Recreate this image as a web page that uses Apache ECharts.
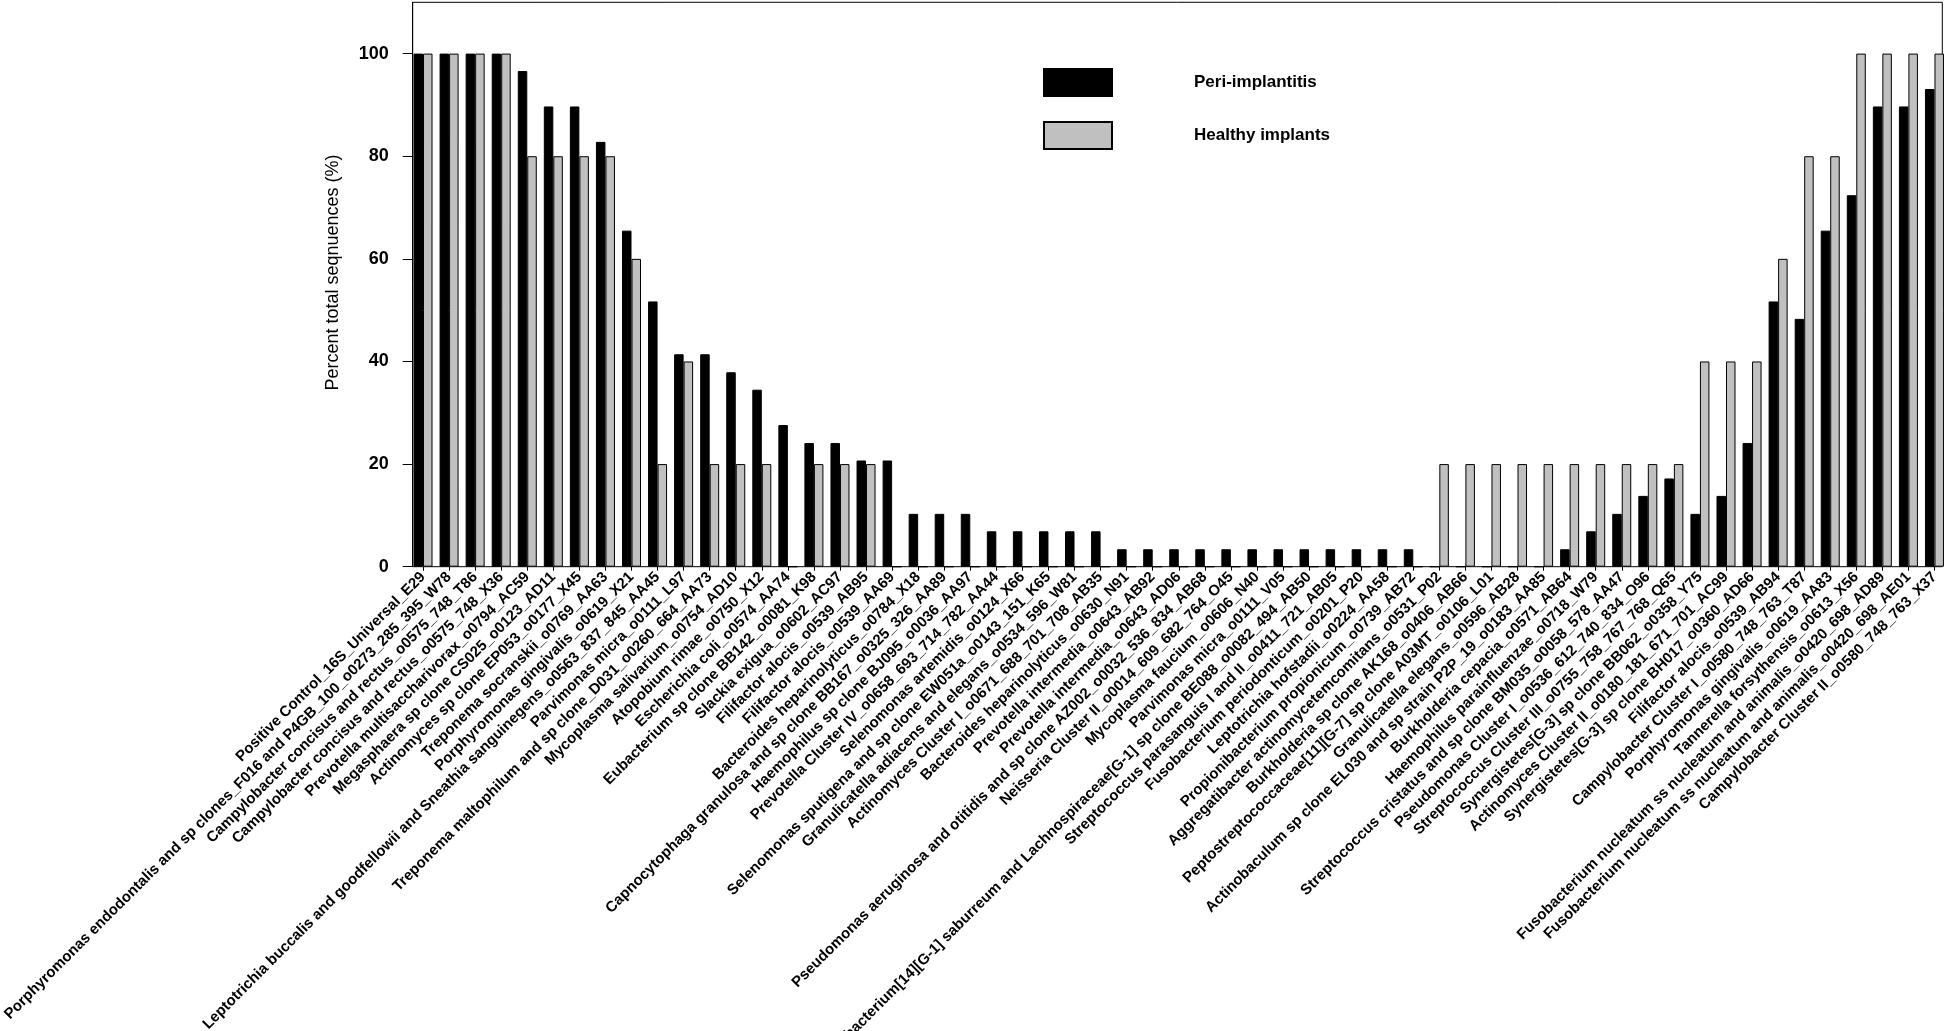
<!DOCTYPE html>
<html>
<head>
<meta charset="utf-8">
<script src="https://cdn.jsdelivr.net/npm/echarts@6/dist/echarts.min.js"></script>
<style>
html,body{margin:0;padding:0;background:#fff;}
#chart{width:1946px;height:1031px;}
</style>
</head>
<body>
<div id="chart"></div>
<script>
var categories = [
  "Positive Control_16S_Universal_E29",
  "Porphyromonas endodontalis and sp clones_F016 and P4GB_100_o0273_285_395_W78",
  "Campylobacter concisus and rectus_o0575_748_T86",
  "Campylobacter concisus and rectus_o0575_748_X36",
  "Prevotella multisaccharivorax_o0794_AC59",
  "Megasphaera sp clone CS025_o0123_AD11",
  "Actinomyces sp clone EP053_o0177_X45",
  "Treponema socranskii_o0769_AA63",
  "Porphyromonas gingivalis_o0619_X21",
  "Leptotrichia buccalis and goodfellowii and Sneathia sanguinegens_o0563_837_845_AA45",
  "Parvimonas micra_o0111_L97",
  "Treponema maltophilum and sp clone_D031_o0260_664_AA73",
  "Mycoplasma salivarium_o0754_AD10",
  "Atopobium rimae_o0750_X12",
  "Escherichia coli_o0574_AA74",
  "Eubacterium sp clone BB142_o0081_K98",
  "Slackia exigua_o0602_AC97",
  "Filifactor alocis_o0539_AB95",
  "Filifactor alocis_o0539_AA69",
  "Bacteroides heparinolyticus_o0784_X18",
  "Capnocytophaga granulosa and sp clone BB167_o0325_326_AA89",
  "Haemophilus sp clone BJ095_o0036_AA97",
  "Prevotella Cluster IV_o0658_693_714_782_AA44",
  "Selenomonas artemidis_o0124_X66",
  "Selenomonas sputigena and sp clone EW051a_o0143_151_K65",
  "Granulicatella adiacens and elegans_o0534_596_W81",
  "Actinomyces Cluster I_o0671_688_701_708_AB35",
  "Bacteroides heparinolyticus_o0630_N91",
  "Prevotella intermedia_o0643_AB92",
  "Prevotella intermedia_o0643_AD06",
  "Pseudomonas aeruginosa and otitidis and sp clone AZ002_o0032_536_834_AB68",
  "Neisseria Cluster II_o0014_609_682_764_O45",
  "Mycoplasma faucium_o0606_N40",
  "Parvimonas micra_o0111_V05",
  "Eubacterium[14][G-1] saburreum and Lachnospiraceae[G-1] sp clone BE088_o0082_494_AB50",
  "Streptococcus parasanguis I and II_o0411_721_AB05",
  "Fusobacterium periodonticum_o0201_P20",
  "Leptotrichia hofstadii_o0224_AA58",
  "Propionibacterium propionicum_o0739_AB72",
  "Aggregatibacter actinomycetemcomitans_o0531_P02",
  "Burkholderia sp clone AK168_o0406_AB66",
  "Peptostreptococcaceae[11][G-7] sp clone A03MT_o0106_L01",
  "Granulicatella elegans_o0596_AB28",
  "Actinobaculum sp clone EL030 and sp strain P2P_19_o0183_AA85",
  "Burkholderia cepacia_o0571_AB64",
  "Haemophilus parainfluenzae_o0718_W79",
  "Streptococcus cristatus and sp clone BM035_o0058_578_AA47",
  "Pseudomonas Cluster I_o0536_612_740_834_O96",
  "Streptococcus Cluster III_o0755_758_767_768_Q65",
  "Synergistetes[G-3] sp clone BB062_o0358_Y75",
  "Actinomyces Cluster II_o0180_181_671_701_AC99",
  "Synergistetes[G-3] sp clone BH017_o0360_AD66",
  "Filifactor alocis_o0539_AB94",
  "Campylobacter Cluster I_o0580_748_763_T87",
  "Porphyromonas gingivalis_o0619_AA83",
  "Tannerella forsythensis_o0613_X56",
  "Fusobacterium nucleatum ss nucleatum and animalis_o0420_698_AD89",
  "Fusobacterium nucleatum ss nucleatum and animalis_o0420_698_AE01",
  "Campylobacter Cluster II_o0580_748_763_X37"
];

var periImplantitis = [
  100, 100, 100, 100, 96.6, 89.7, 89.7, 82.8, 65.5, 51.7,
  41.4, 41.4, 37.9, 34.5, 27.6, 24.1, 24.1, 20.7, 20.7, 10.3,
  10.3, 10.3, 6.9, 6.9, 6.9, 6.9, 6.9, 3.4, 3.4, 3.4,
  3.4, 3.4, 3.4, 3.4, 3.4, 3.4, 3.4, 3.4, 3.4, 0,
  0, 0, 0, 0, 3.4, 6.9, 10.3, 13.8, 17.2, 10.3,
  13.8, 24.1, 51.7, 48.3, 65.5, 72.4, 89.7, 89.7, 93.1
];

var healthyImplants = [
  100, 100, 100, 100, 80, 80, 80, 80, 60, 20,
  40, 20, 20, 20, 0, 20, 20, 20, 0, 0,
  0, 0, 0, 0, 0, 0, 0, 0, 0, 0,
  0, 0, 0, 0, 0, 0, 0, 0, 0, 20,
  20, 20, 20, 20, 20, 20, 20, 20, 20, 40,
  40, 40, 60, 80, 80, 100, 100, 100, 100
];

var yTicks = [0, 20, 40, 60, 80, 100];
var seriesNames = ["Peri-implantitis", "Healthy implants"];
var yTitle = "Percent total seqnuences (%)";

var FONT = "'Liberation Sans', Arial, sans-serif";
var chart = echarts.init(document.getElementById('chart'), null, {renderer: 'canvas'});

var option = {
  backgroundColor: '#ffffff',
  animation: false,
  textStyle: {fontFamily: FONT},
  legend: {
    data: seriesNames,
    orient: 'vertical',
    left: 1043,
    top: 68,
    padding: 0,
    itemWidth: 68,
    itemHeight: 27,
    itemGap: 24,
    icon: 'rect',
    textStyle: {fontFamily: FONT, fontSize: 17, fontWeight: 'bold', color: '#000', padding: [0, 0, 0, 77]}
  },
  grid: [
    {left: 412.7, top: 2.3, width: 1529.6, height: 564.4, show: true, borderColor: '#000', borderWidth: 1, backgroundColor: 'transparent', containLabel: false, outerBoundsMode: 'none'},
    {left: 410, top: 2.3, width: 1537.5, height: 564.4, containLabel: false, outerBoundsMode: 'none'}
  ],
  xAxis: [
    {gridIndex: 0, type: 'value', min: 0, max: 1, show: false},
    {
      gridIndex: 1, type: 'category', data: categories, boundaryGap: true,
      axisLine: {show: false},
      axisTick: {show: true, alignWithLabel: true, interval: 0, length: 4, lineStyle: {color: '#000', width: 1}},
      axisLabel: {
        interval: 0, rotate: 45, margin: 8, color: '#000',
        fontFamily: FONT, fontSize: 15, fontWeight: 'bold'
      },
      splitLine: {show: false}
    }
  ],
  yAxis: [
    {
      gridIndex: 0, type: 'value', min: 0, max: 110, interval: 20,
      name: yTitle, nameLocation: 'middle', nameGap: 71,
      nameTextStyle: {fontFamily: FONT, fontSize: 18, color: '#000', padding: [0, 0, 0, 24]},
      axisLine: {show: true, lineStyle: {color: '#000', width: 1}},
      axisTick: {show: true, length: 10, inside: false, customValues: yTicks, lineStyle: {color: '#000', width: 1}},
      axisLabel: {margin: 24, color: '#000', fontFamily: FONT, fontSize: 18, fontWeight: 'bold', customValues: yTicks},
      splitLine: {show: false}
    },
    {gridIndex: 1, type: 'value', min: 0, max: 110, show: false, splitLine: {show: false}}
  ],
  series: [
    {
      name: seriesNames[0], type: 'bar', xAxisIndex: 1, yAxisIndex: 1,
      data: periImplantitis, barWidth: 9.5, barGap: '0%',
      itemStyle: {color: '#000000', borderColor: '#000000', borderWidth: 1}
    },
    {
      name: seriesNames[1], type: 'bar', xAxisIndex: 1, yAxisIndex: 1,
      data: healthyImplants, barWidth: 9.5, barGap: '0%',
      itemStyle: {color: '#c0c0c0', borderColor: '#000000', borderWidth: 1}
    }
  ]
};
chart.setOption(option);
</script>
</body>
</html>
